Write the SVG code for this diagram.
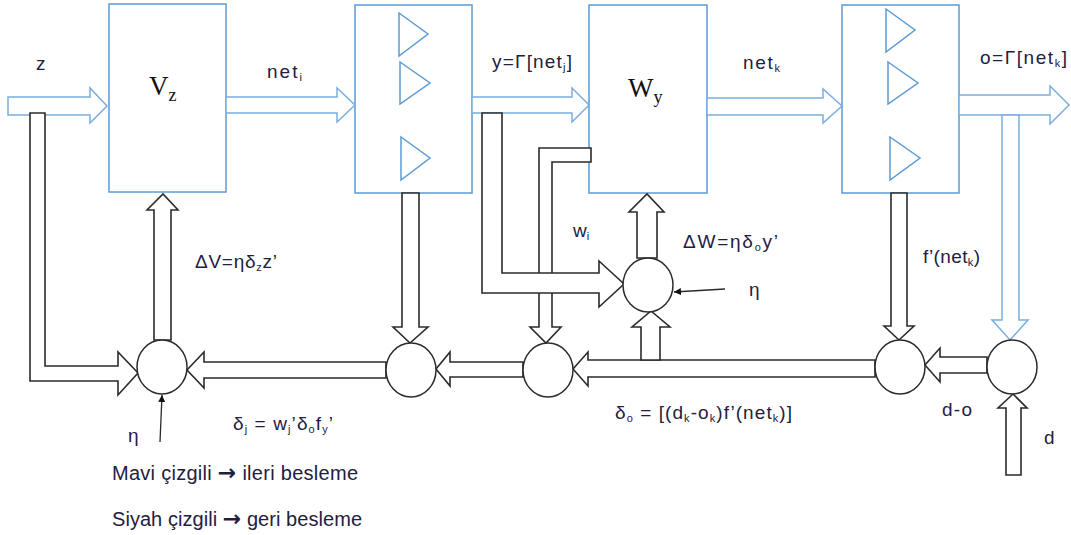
<svg xmlns="http://www.w3.org/2000/svg" width="1071" height="535" viewBox="0 0 1071 535">
<style>
.box{fill:#fff;stroke:#5b9bd5;stroke-width:1.5}
.tri{fill:none;stroke:#5b9bd5;stroke-width:1.5}
.barrow{fill:#fff;stroke:#7aaee0;stroke-width:1.5;stroke-linejoin:miter}
.karrow{fill:#fff;stroke:#2b2b2b;stroke-width:1.6;stroke-linejoin:miter}
.node{fill:#fff;stroke:#2b2b2b;stroke-width:1.5}
.thin{fill:none;stroke:#2b2b2b;stroke-width:1.3}
.lbl{font-family:"Liberation Sans",Arial,sans-serif;font-size:19px;fill:#1f2040}
.leg{font-family:"Liberation Sans",Arial,sans-serif;font-size:20px;fill:#1f2040}
.arr{font-family:"DejaVu Sans",sans-serif;font-size:22px;font-weight:bold}
.math{font-family:"Liberation Serif","Times New Roman",serif;font-size:27px;fill:#111}
.sub{font-size:11px}
.msub{font-size:18px}
</style>
<defs>
<marker id="ah" viewBox="0 0 10 10" refX="10" refY="5" markerWidth="7" markerHeight="7" markerUnits="userSpaceOnUse" orient="auto">
<path d="M0,0 L10,5 L0,10 z" fill="#111"/>
</marker>
</defs>

<g id="box-vz">
<rect class="box" x="109" y="4" width="117" height="188"/>
<text class="math" x="149" y="95">V<tspan class="msub" dy="6">z</tspan></text>
</g>
<g id="box-act1">
<rect class="box" x="355" y="5" width="117" height="188"/>
<path class="tri" d="M399,13 L428,34 L399,56 Z"/>
<path class="tri" d="M400,62 L430,83 L400,104 Z"/>
<path class="tri" d="M401,137 L430,158 L401,180 Z"/>
</g>
<g id="box-wy">
<rect class="box" x="589" y="5" width="118" height="188"/>
<text class="math" x="628" y="97">W<tspan class="msub" dy="6">y</tspan></text>
</g>
<g id="box-act2">
<rect class="box" x="842" y="5" width="117" height="188"/>
<path class="tri" d="M886,9 L915,30 L886,52 Z"/>
<path class="tri" d="M888,62 L918,83 L888,104 Z"/>
<path class="tri" d="M890,137 L920,158 L890,180 Z"/>
</g>

<g id="connectors">
<path class="barrow" d="M8,97 L90,97 L90,88 L107,106 L90,123 L90,115 L8,115 Z"/>
<path class="barrow" d="M226,97 L337,97 L337,88 L355,105 L337,122 L337,113 L226,113 Z"/>
<path class="barrow" d="M472,97 L572,97 L572,88 L589,105 L572,122 L572,113 L472,113 Z"/>
<path class="barrow" d="M707,98 L823,98 L823,89 L842,106 L823,123 L823,115 L707,115 Z"/>
<path class="barrow" d="M959,95 L1050,95 L1050,86 L1069,105 L1050,124 L1050,115 L959,115 Z"/>
<path class="barrow" d="M1002,115 L1002,320 L992,320 L1010,340 L1028,320 L1019,320 L1019,115 Z"/>
<path class="karrow" d="M539,148 L591,148 L591,162 L552,162 L552,327 L561,327 L546,343 L530,327 L539,327 Z"/>
<path class="karrow" d="M482,113 L502,113 L502,273 L599,273 L599,261 L624,284 L599,307 L599,293 L482,293 Z"/>
<path class="karrow" d="M30,113 L45,113 L45,366 L118,366 L118,352 L138,373 L118,395 L118,381 L30,381 Z"/>
<path class="karrow" d="M154,340 L154,210 L147,210 L163,194 L178,210 L171,210 L171,340 Z"/>
<path class="karrow" d="M402,193 L402,327 L393,327 L410,343 L428,327 L419,327 L419,193 Z"/>
<path class="karrow" d="M386,362 L204,362 L204,352 L187,370 L204,388 L204,378 L386,378 Z"/>
<path class="karrow" d="M523,362 L450,362 L450,352 L436,369 L450,386 L450,377 L523,377 Z"/>
<path class="karrow" d="M637,258 L637,212 L629,212 L647,194 L664,212 L657,212 L657,258 Z"/>
<path class="karrow" d="M875,360 L588,360 L588,352 L573,369 L588,386 L588,377 L875,377 Z"/>
<path class="karrow" d="M641,360 L641,327 L632,327 L651,311 L670,327 L660,327 L660,360 Z"/>
<path class="karrow" d="M891,193 L891,326 L884,326 L899,340 L914,326 L907,326 L907,193 Z"/>
<path class="karrow" d="M987,357 L940,357 L940,348 L925,365 L940,382 L940,373 L987,373 Z"/>
<path class="karrow" d="M1006,475 L1006,408 L998,408 L1013,394 L1027,408 L1021,408 L1021,475 Z"/>
<line class="thin" x1="725" y1="289" x2="674" y2="292" marker-end="url(#ah)"/>
<line class="thin" x1="160" y1="442" x2="162" y2="395" marker-end="url(#ah)"/>
</g>

<g id="sum-1"><ellipse class="node" cx="162" cy="367" rx="25" ry="27"/></g>
<g id="sum-2"><ellipse class="node" cx="411" cy="370" rx="25" ry="27"/></g>
<g id="sum-3"><ellipse class="node" cx="548" cy="370" rx="25" ry="27"/></g>
<g id="sum-eta"><ellipse class="node" cx="648" cy="285" rx="25" ry="27"/></g>
<g id="sum-5"><ellipse class="node" cx="900" cy="367" rx="25" ry="27"/></g>
<g id="sum-6"><ellipse class="node" cx="1012" cy="367" rx="25" ry="27"/></g>

<g id="labels">
<text class="lbl" x="36" y="70">z</text>
<text class="lbl" x="267" y="78" textLength="35" lengthAdjust="spacing">net<tspan class="sub" dy="3">i</tspan></text>
<text class="lbl" x="492" y="68" textLength="80" lengthAdjust="spacing">y=Γ[net<tspan class="sub" dy="3">j</tspan><tspan dy="-3">]</tspan></text>
<text class="lbl" x="743" y="69" textLength="37" lengthAdjust="spacing">net<tspan class="sub" dy="3">k</tspan></text>
<text class="lbl" x="980" y="64" textLength="87" lengthAdjust="spacing">o=Γ[net<tspan class="sub" dy="3">k</tspan><tspan dy="-3">]</tspan></text>
<text class="lbl" x="195" y="268" textLength="82" lengthAdjust="spacing">ΔV=ηδ<tspan class="sub" dy="3">z</tspan><tspan dy="-3">z’</tspan></text>
<text class="lbl" x="573" y="237">w<tspan class="sub" dy="3">i</tspan></text>
<text class="lbl" x="683" y="248" textLength="95" lengthAdjust="spacing">ΔW=ηδ<tspan class="sub" dy="3">o</tspan><tspan dy="-3">y’</tspan></text>
<text class="lbl" x="749" y="296">η</text>
<text class="lbl" x="923" y="263" textLength="57" lengthAdjust="spacing">f’(net<tspan class="sub" dy="3">k</tspan><tspan dy="-3">)</tspan></text>
<text class="lbl" x="615" y="419" textLength="177" lengthAdjust="spacing">δ<tspan class="sub" dy="3">o</tspan><tspan dy="-3"> = [(d</tspan><tspan class="sub" dy="3">k</tspan><tspan dy="-3">-o</tspan><tspan class="sub" dy="3">k</tspan><tspan dy="-3">)f’(net</tspan><tspan class="sub" dy="3">k</tspan><tspan dy="-3">)]</tspan></text>
<text class="lbl" x="942" y="416" textLength="30" lengthAdjust="spacing">d-o</text>
<text class="lbl" x="1044" y="444">d</text>
<text class="lbl" x="233" y="430" textLength="100" lengthAdjust="spacing">δ<tspan class="sub" dy="3">j</tspan><tspan dy="-3"> = w</tspan><tspan class="sub" dy="3">j</tspan><tspan dy="-3">’δ</tspan><tspan class="sub" dy="3">o</tspan><tspan dy="-3">f</tspan><tspan class="sub" dy="3">y</tspan><tspan dy="-3">’</tspan></text>
<text class="lbl" x="128" y="442">η</text>
<text class="leg" x="112" y="480" textLength="246" lengthAdjust="spacing">Mavi çizgili <tspan class="arr">→</tspan> ileri besleme</text>
<text class="leg" x="112" y="526" textLength="250" lengthAdjust="spacing">Siyah çizgili <tspan class="arr">→</tspan> geri besleme</text>
</g>
</svg>
